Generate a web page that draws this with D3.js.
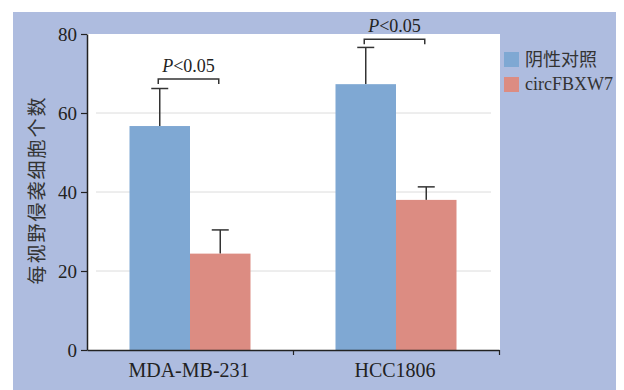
<!DOCTYPE html>
<html>
<head>
<meta charset="utf-8">
<script src="https://cdn.jsdelivr.net/npm/d3@7"></script>
<style>
  body { margin: 0; background: #fff; }
  svg text { fill: #222; }
</style>
</head>
<body>
<div id="chart"></div>
<script>
// data
const groups = ["MDA-MB-231", "HCC1806"];
const series = ["阴性对照", "circFBXW7"];
const controlMeans = [56.7, 67.3];
const controlErr = [9.5, 9.3];
const circMeans = [24.4, 38.0];
const circErr = [6.0, 3.3];
const yTicks = [0, 20, 40, 60, 80];
const gridTicks = [20, 40, 60];
const sigLevels = [68.6, 78.7];
const sigLabel = "<0.05";
const yTitle = "每视野侵袭细胞个数";

const colors = ["#7fa8d3", "#dc8c82"];
const serif = "'Liberation Serif', 'DejaVu Serif', serif";
const cjk = "'Noto Sans CJK SC', sans-serif";

const W = 624, H = 390;
const plotLeft = 87, plotRight = 499, plotTop = 34, plotBottom = 350;

const svg = d3.select("#chart").append("svg")
  .attr("width", W)
  .attr("height", H);

// background panel
svg.append("rect")
  .attr("x", 13).attr("y", 12)
  .attr("width", 603).attr("height", 378)
  .attr("fill", "#aebcdf");

// white plot area
svg.append("rect")
  .attr("x", plotLeft).attr("y", plotTop)
  .attr("width", plotRight + 1 - plotLeft).attr("height", plotBottom - plotTop)
  .attr("fill", "#fff");

const x0 = d3.scaleBand()
  .domain(groups)
  .range([plotLeft, plotRight])
  .paddingInner(0.4126)
  .paddingOuter(0.2063);

const x1 = d3.scaleBand()
  .domain(series)
  .range([0, x0.bandwidth()]);

const y = d3.scaleLinear()
  .domain([0, 80])
  .range([plotBottom, plotTop]);

// gridlines
svg.append("g")
  .selectAll("line")
  .data(gridTicks)
  .enter()
  .append("line")
  .attr("x1", 96).attr("x2", 491)
  .attr("y1", d => y(d)).attr("y2", d => y(d))
  .attr("stroke", "#dcdcdc")
  .attr("stroke-width", 1);

// rows of bars
const rows = groups.map((g, i) => [
  { group: g, s: series[0], v: controlMeans[i], e: controlErr[i], c: colors[0] },
  { group: g, s: series[1], v: circMeans[i], e: circErr[i], c: colors[1] }
]).flat();

// error bars (drawn first so bars cover the lower half)
const eb = svg.append("g")
  .attr("stroke", "#333")
  .attr("stroke-width", 1.5);
rows.forEach(d => {
  const cx = x0(d.group) + x1(d.s) + x1.bandwidth() / 2;
  eb.append("line")
    .attr("x1", cx).attr("x2", cx)
    .attr("y1", y(d.v)).attr("y2", y(d.v + d.e));
  eb.append("line")
    .attr("x1", cx - 8.5).attr("x2", cx + 8.5)
    .attr("y1", y(d.v + d.e)).attr("y2", y(d.v + d.e));
});

svg.append("g")
  .selectAll("rect")
  .data(rows)
  .enter()
  .append("rect")
  .attr("x", d => x0(d.group) + x1(d.s))
  .attr("y", d => y(d.v))
  .attr("width", x1.bandwidth())
  .attr("height", d => y(0) - y(d.v))
  .attr("fill", d => d.c);

// significance brackets
groups.forEach((g, i) => {
  const xa = x0(g) + x1(series[0]) + x1.bandwidth() / 2 - 1.5;
  const xz = x0(g) + x1(series[1]) + x1.bandwidth() / 2 - 1.5;
  const yy = y(sigLevels[i]);
  svg.append("path")
    .attr("d", `M${xa},${yy + 5}V${yy}H${xz}V${yy + 5}`)
    .attr("fill", "none")
    .attr("stroke", "#333")
    .attr("stroke-width", 1.5);
  const t = svg.append("text")
    .attr("x", (xa + xz) / 2)
    .attr("y", yy - 7.5)
    .attr("text-anchor", "middle")
    .style("font-family", serif)
    .style("font-size", "18px");
  t.append("tspan").style("font-style", "italic").text("P");
  t.append("tspan").text(sigLabel);
});

// y axis
const yaxis = svg.append("g")
  .attr("transform", "translate(" + plotLeft + ",0)")
  .call(d3.axisLeft(y).tickValues(yTicks).tickSize(6).tickPadding(4).tickSizeOuter(0));
yaxis.select(".domain").attr("stroke", "#222").attr("stroke-width", 1.5);
yaxis.selectAll("line").attr("stroke", "#222").attr("stroke-width", 1.2);
yaxis.selectAll("text")
  .style("font-family", serif)
  .style("font-size", "19px")
  .style("fill", "#222");

// x axis with ticks at band edges
const xEdge = d3.scaleLinear().domain([0, groups.length]).range([plotLeft, plotRight]);
const xaxis = svg.append("g")
  .attr("transform", "translate(0," + plotBottom + ")")
  .call(d3.axisBottom(xEdge).tickValues(d3.range(1, groups.length + 1)).tickSize(5).tickFormat("").tickSizeOuter(0));
xaxis.select(".domain").attr("stroke", "#222").attr("stroke-width", 1.5);
xaxis.selectAll("line").attr("stroke", "#222").attr("stroke-width", 1.2);

svg.append("g")
  .selectAll("text")
  .data(groups)
  .enter()
  .append("text")
  .attr("x", d => x0(d) + x0.bandwidth() / 2 - 1)
  .attr("y", 377)
  .attr("text-anchor", "middle")
  .style("font-family", serif)
  .style("font-size", "20px")
  .text(d => d);

// y axis title
svg.append("text")
  .attr("transform", "translate(44,190) rotate(-90)")
  .attr("text-anchor", "middle")
  .style("font-family", cjk)
  .style("font-size", "19px")
  .style("letter-spacing", "2px")
  .style("fill", "#333")
  .text(yTitle);

// legend
const legend = svg.append("g");
series.forEach((s, i) => {
  legend.append("rect")
    .attr("x", 504).attr("y", 52 + i * 25)
    .attr("width", 15).attr("height", 15)
    .attr("fill", colors[i]);
  legend.append("text")
    .attr("x", 525).attr("y", 66 + i * 24)
    .style("font-family", i === 0 ? cjk : serif)
    .style("font-size", "18px")
    .style("fill", "#333")
    .text(s);
});
</script>
</body>
</html>
